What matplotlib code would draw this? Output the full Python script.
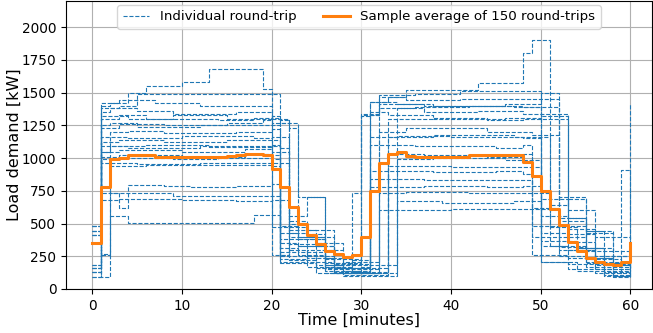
"""
Load demand of individual round-trips and their sample average.
"""

import numpy as np
import matplotlib
matplotlib.use('Agg')
import matplotlib.pyplot as plt

minutes = list(range(0, 61))

# sample average of 150 round-trips, one value per minute
avg_load = [355, 778, 995, 1000, 1025, 1025, 1020, 1005, 1005, 1005,
            1005, 1005, 1005, 1008, 1012, 1015, 1025, 1028, 1028, 1025,
            915, 778, 625, 500, 412, 340, 292, 265, 245, 258,
            395, 745, 965, 1030, 1048, 1018, 1010, 1010, 1010, 1010,
            1010, 1010, 1023, 1023, 1023, 1023, 1023, 1023, 968, 863,
            750, 608, 489, 356, 292, 234, 209, 191, 183, 208,
            349]

# individual round-trips, as (minute, load) change points
trip01 = [(0, 480), (1, 1400), (2, 1420), (4, 1500), (6, 1550), (10, 1580), (13, 1680), (19, 1530),
          (20, 470), (22, 430), (24, 250), (27, 130), (31, 1330), (32, 1470), (35, 1520), (43, 1570),
          (48, 1800), (49, 1900), (51, 470), (54, 310), (57, 110), (60, 1420)]
trip02 = [(0, 440), (1, 1380), (3, 1400), (5, 1490), (21, 280), (23, 330), (26, 150), (32, 1480),
          (36, 1490), (41, 1510), (50, 690), (53, 300), (56, 150), (60, 200)]
trip03 = [(0, 410), (1, 1420), (3, 1440), (7, 1420), (12, 1400), (20, 1310), (21, 1270), (22, 470),
          (24, 420), (26, 200), (30, 1320), (31, 1430), (34, 1410), (38, 1400), (48, 1390), (50, 330),
          (53, 240), (58, 90), (60, 120)]
trip04 = [(0, 350), (1, 1350), (2, 1380), (5, 1360), (9, 1340), (16, 1350), (20, 1300), (22, 1230),
          (23, 380), (26, 170), (29, 220), (31, 1350), (33, 1330), (38, 1300), (46, 1310), (50, 1320),
          (53, 540), (55, 440), (57, 180), (60, 150)]
trip05 = [(0, 180), (1, 1300), (3, 1330), (6, 1300), (14, 1290), (18, 1310), (20, 260), (22, 500),
          (24, 450), (27, 120), (32, 1200), (35, 1230), (44, 1200), (49, 1180), (52, 480), (55, 200),
          (60, 180)]
trip06 = [(0, 160), (1, 1250), (2, 1270), (5, 1240), (12, 1250), (21, 230), (24, 300), (28, 110),
          (33, 1160), (38, 1180), (47, 1160), (51, 330), (55, 240), (58, 200), (59, 908), (60, 160)]
trip07 = [(0, 130), (1, 90), (2, 1200), (4, 1210), (8, 1190), (16, 1200), (20, 1220), (21, 350),
          (23, 280), (26, 140), (30, 170), (31, 1100), (36, 1090), (45, 1080), (48, 1100), (49, 400),
          (52, 300), (56, 120), (60, 100)]
trip08 = [(0, 95), (1, 1160), (4, 1150), (10, 1165), (18, 1150), (20, 1160), (22, 220), (25, 180),
          (28, 100), (34, 990), (38, 1000), (46, 985), (50, 210), (54, 140), (60, 130)]
trip09 = [(0, 350), (1, 1120), (3, 1140), (8, 1120), (15, 1135), (21, 480), (23, 400), (26, 240),
          (29, 130), (33, 940), (40, 930), (47, 935), (50, 560), (53, 420), (56, 250), (60, 230)]
trip10 = [(0, 480), (1, 1090), (4, 1080), (12, 1090), (21, 200), (25, 160), (31, 900), (38, 895),
          (45, 900), (48, 880), (49, 260), (53, 190), (57, 100), (60, 110)]
trip11 = [(0, 410), (1, 1050), (3, 1060), (10, 1050), (17, 1070), (20, 1050), (22, 560), (24, 700),
          (26, 160), (31, 840), (37, 830), (44, 835), (49, 620), (52, 520), (55, 290), (60, 270)]
trip12 = [(0, 440), (1, 990), (3, 1000), (9, 990), (14, 1000), (20, 990), (21, 380), (23, 330),
          (27, 190), (31, 780), (37, 785), (44, 780), (48, 790), (50, 430), (53, 360), (56, 200),
          (60, 190)]
trip13 = [(0, 160), (1, 960), (5, 955), (12, 960), (22, 450), (25, 350), (28, 210), (32, 730),
          (35, 740), (42, 730), (51, 640), (53, 690), (55, 440), (58, 190), (60, 200)]
trip14 = [(0, 130), (1, 270), (2, 940), (6, 950), (13, 945), (20, 940), (21, 310), (23, 260),
          (26, 120), (34, 670), (39, 660), (47, 670), (50, 370), (54, 310), (57, 130), (60, 120)]
trip15 = [(0, 130), (1, 780), (2, 730), (3, 618), (4, 795), (8, 790), (11, 780), (16, 790), (20, 800),
          (21, 250), (24, 210), (27, 120), (32, 600), (40, 610), (52, 250), (55, 170), (60, 160)]
trip16 = [(0, 95), (1, 730), (5, 735), (9, 710), (21, 430), (23, 380), (26, 230), (30, 1330),
          (32, 1380), (36, 1390), (42, 1400), (47, 1390), (52, 700), (55, 430), (58, 250), (60, 260)]
trip17 = [(0, 350), (1, 680), (3, 690), (10, 680), (16, 670), (20, 680), (22, 300), (24, 240),
          (27, 160), (33, 1030), (37, 1020), (44, 1010), (48, 1030), (49, 480), (52, 400), (55, 210),
          (60, 190)]
trip18 = [(0, 410), (1, 260), (2, 560), (4, 506), (18, 565), (21, 210), (24, 170), (28, 140),
          (31, 1160), (34, 1170), (40, 1160), (48, 1150), (50, 210), (53, 150), (60, 140)]
trip19 = [(0, 480), (1, 1230), (3, 1260), (8, 1250), (15, 1270), (19, 1290), (20, 1270), (23, 700),
          (26, 180), (29, 140), (31, 1430), (33, 1470), (35, 1440), (41, 1450), (52, 540), (55, 310),
          (58, 100), (60, 90)]
trip20 = [(0, 440), (1, 1010), (3, 1020), (10, 1010), (17, 1030), (20, 1020), (21, 260), (22, 340),
          (25, 120), (33, 1300), (38, 1310), (44, 1290), (48, 1300), (53, 460), (56, 180), (60, 130)]
trip21 = [(0, 180), (1, 1320), (4, 1300), (9, 1330), (15, 1300), (20, 1320), (21, 1290), (22, 400),
          (25, 330), (27, 200), (29, 735), (30, 1340), (32, 1410), (37, 1400), (46, 1410), (50, 1500),
          (52, 320), (55, 230), (59, 100), (60, 95)]
trip22 = [(0, 160), (1, 1050), (2, 1090), (6, 1100), (13, 1085), (20, 1100), (21, 1080), (22, 520),
          (24, 400), (27, 180), (34, 1380), (37, 1350), (43, 1360), (48, 1340), (53, 600), (56, 400),
          (60, 380)]

trips = [trip01, trip02, trip03, trip04, trip05, trip06, trip07, trip08, trip09, trip10, trip11,
         trip12, trip13, trip14, trip15, trip16, trip17, trip18, trip19, trip20, trip21, trip22]


def per_minute(changes):
    '''Hold each load value until the next change point.'''
    load = []
    k = 0
    for t in minutes:
        while k + 1 < len(changes) and changes[k + 1][0] <= t:
            k += 1
        load.append(changes[k][1])
    return load


fig = plt.figure(figsize=(6.53, 3.33), dpi=100)
ax = fig.add_axes([66 / 653, 1 - 289 / 333, 586 / 653, 288 / 333])

for i, trip in enumerate(trips):
    ax.plot(minutes, per_minute(trip), drawstyle='steps-post', linestyle='--',
            color='tab:blue', linewidth=0.8,
            label='Individual round-trip' if i == 0 else None)

ax.plot(minutes, avg_load, drawstyle='steps-post', color='tab:orange',
        linewidth=2.2, label='Sample average of 150 round-trips')

ax.set_xlim(-2.9, 62.4)
ax.set_ylim(0, 2200)
ax.set_xticks([0, 10, 20, 30, 40, 50, 60])
ax.set_yticks([0, 250, 500, 750, 1000, 1250, 1500, 1750, 2000])
ax.tick_params(labelsize=9.8)
ax.grid(True, color='#b0b0b0', linewidth=0.8)
ax.set_xlabel('Time [minutes]', fontsize=11.5, labelpad=0)
ax.set_ylabel('Load demand [kW]', fontsize=11.5, labelpad=0)
ax.legend(loc='upper center', ncol=2, fontsize=9.6, borderaxespad=0.3)

plt.savefig('out.png', dpi=100)
